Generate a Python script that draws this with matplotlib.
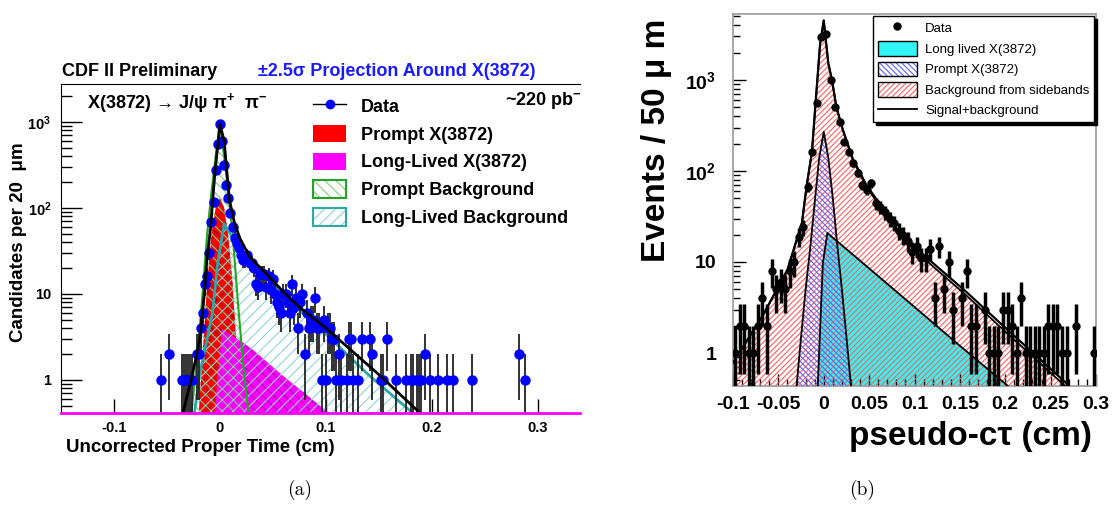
import numpy as np
import matplotlib.pyplot as plt
from matplotlib.patches import Patch
from matplotlib.lines import Line2D
from matplotlib.ticker import LogLocator, FixedLocator, FuncFormatter, NullFormatter, MultipleLocator

# ---------------- panel (a): CDF, 20 um bins ----------------
xa = [-0.056, -0.048, -0.036, -0.034, -0.032, -0.030, -0.028, -0.026, -0.022, -0.020,
      -0.018, -0.016, -0.014, -0.012, -0.010, -0.008, -0.006, -0.004, -0.002, 0.000,
      0.002, 0.004, 0.006, 0.008, 0.010, 0.012, 0.014, 0.016, 0.018, 0.020,
      0.022, 0.024, 0.026, 0.028, 0.030, 0.032, 0.034, 0.036, 0.038, 0.040,
      0.042, 0.044, 0.046, 0.048, 0.050, 0.052, 0.054, 0.056, 0.058, 0.060,
      0.062, 0.064, 0.066, 0.068, 0.070, 0.072, 0.074, 0.076, 0.078, 0.080,
      0.082, 0.084, 0.086, 0.088, 0.090, 0.092, 0.094, 0.096, 0.098, 0.100,
      0.102, 0.104, 0.106, 0.108, 0.110, 0.112, 0.114, 0.120, 0.122, 0.124,
      0.126, 0.130, 0.134, 0.142, 0.144, 0.152, 0.154, 0.158, 0.166, 0.176,
      0.180, 0.182, 0.186, 0.188, 0.190, 0.194, 0.198, 0.206, 0.214, 0.220,
      0.238, 0.282, 0.288]
na = [1, 2, 1, 1, 1, 1, 1, 1, 2, 2,
      4, 6, 13, 16, 30, 69, 117, 277, 555, 950,
      600, 316, 185, 130, 88, 60, 45, 39, 34, 28,
      25, 25, 28, 23, 23, 20, 13, 12, 17, 17,
      17, 12, 16, 11, 15, 10, 8, 7, 6, 10,
      10, 8, 6, 13, 7, 9, 4, 8, 10, 2,
      6, 4, 5, 5, 9, 4, 4, 1, 5, 1,
      4, 4, 3, 3, 1, 2, 1, 1, 3, 3,
      1, 1, 3, 3, 2, 1, 1, 3, 1, 1,
      1, 1, 1, 1, 1, 2, 1, 1, 1, 1,
      1, 2, 1]

tot_a_x = [-0.035, -0.027, -0.019, -0.015, -0.012, -0.009, -0.005, 0.0, 0.004, 0.009,
           0.014, 0.019, 0.028, 0.044, 0.06, 0.075, 0.1, 0.15, 0.189]
tot_a_y = [0.41, 1.0, 2.9, 9, 27, 55, 230, 950, 600, 124,
           65, 44, 27, 17, 10.5, 7, 4, 1.15, 0.41]
prompt_a_x = [-0.020, -0.016, -0.012, -0.008, -0.004, 0.0, 0.004, 0.008, 0.012, 0.016, 0.020]
prompt_a_y = [0.41, 2.2, 13, 47, 100, 130, 100, 47, 13, 2.2, 0.41]
ll_a_x = [-0.005, 0.002, 0.03, 0.06, 0.103]
ll_a_y = [0.41, 3.9, 2.3, 1.1, 0.41]
pbkg_a_x = [-0.027, -0.022, -0.017, -0.012, -0.008, -0.004, 0.0, 0.004, 0.008, 0.012, 0.017, 0.022, 0.027]
pbkg_a_y = [0.41, 1.5, 8, 50, 150, 400, 900, 400, 150, 50, 8, 1.5, 0.41]
lbkg_a_x = [-0.024, -0.019, -0.012, -0.007, -0.002, 0.004, 0.012, 0.02, 0.03, 0.05, 0.075, 0.1, 0.14, 0.182]
lbkg_a_y = [0.41, 1.2, 3, 6, 23, 65, 45, 30, 22, 13, 6.5, 3.4, 1.15, 0.41]

# ---------------- panel (b): 50 um bins ----------------
xb = [-0.0975, -0.0925, -0.0875, -0.0825, -0.0775, -0.0725, -0.0675, -0.0625, -0.0575, -0.0525,
      -0.0475, -0.0425, -0.0375, -0.0325, -0.0275, -0.0225, -0.0175, -0.0125, -0.0075, -0.0025,
      0.0025, 0.0075, 0.0125, 0.0175, 0.0225, 0.0275, 0.0325, 0.0375, 0.0425, 0.0475,
      0.0525, 0.0575, 0.0625, 0.0675, 0.0725, 0.0775, 0.0825, 0.0875, 0.0925, 0.0975,
      0.1025, 0.1075, 0.1125, 0.1175, 0.1225, 0.1275, 0.1325, 0.1375, 0.1425, 0.1525,
      0.1575, 0.1625, 0.1675, 0.1775, 0.1825, 0.1875, 0.1925, 0.1975, 0.2025, 0.2075,
      0.2125, 0.2175, 0.2225, 0.2275, 0.2325, 0.2375, 0.2425, 0.2475, 0.2525, 0.2575,
      0.2625, 0.2675, 0.2775, 0.2975]
nb = [1, 2, 2, 1, 1, 2, 4, 2, 8, 5,
      6, 5, 8, 10, 19, 24, 67, 162, 560, 2960,
      3200, 1000, 510, 345, 208, 162, 122, 95, 70, 62,
      74, 44, 40, 35, 30, 27, 22, 20, 17, 13,
      15, 11, 11, 14, 4, 15, 5, 10, 3, 4,
      8, 2, 2, 3, 1, 1, 1, 3, 3, 2,
      1, 4, 1, 1, 1, 1, 1, 2, 2, 2,
      1, 1, 2, 1]

bkg_b_x = [-0.1, -0.067, -0.04, -0.024, -0.019, -0.013, -0.009, -0.004, 0.0, 0.005, 0.009,
           0.014, 0.021, 0.032, 0.047, 0.065, 0.084, 0.12, 0.157, 0.194, 0.266]
bkg_b_y = [0.78, 2.6, 8.2, 27, 67, 162, 560, 2500, 4500, 1530, 1000,
           500, 280, 132, 67, 37, 19, 9, 4.3, 1.95, 0.434]
tot_b_x = [-0.1, -0.067, -0.04, -0.024, -0.019, -0.013, -0.009, -0.004, 0.0, 0.005, 0.009,
           0.014, 0.021, 0.032, 0.047, 0.065, 0.084, 0.12, 0.157, 0.194, 0.27]
tot_b_y = [0.78, 2.6, 8.2, 27, 67, 162, 560, 2500, 4500, 1530, 1000,
           500, 285, 136, 70, 39, 20.5, 9.8, 4.7, 2.15, 0.44]
prompt_b_x = [-0.03, -0.025, -0.02, -0.015, -0.01, -0.005, 0.0, 0.005, 0.01, 0.015, 0.02, 0.025, 0.03]
prompt_b_y = [0.434, 1.5, 5, 14, 45, 140, 270, 140, 50, 15, 5, 1.5, 0.434]
ll_b_x = [-0.0066, -0.001, 0.004, 0.05, 0.1, 0.15, 0.203]
ll_b_y = [0.434, 9.7, 20.8, 8.5, 3.2, 1.2, 0.434]

plt.rcParams['font.family'] = ['Liberation Sans', 'DejaVu Sans']
plt.rcParams['font.weight'] = 'bold'
plt.rcParams['mathtext.fontset'] = 'custom'
plt.rcParams['mathtext.rm'] = 'Liberation Sans:bold'
plt.rcParams['mathtext.it'] = 'Liberation Sans:bold'
plt.rcParams['mathtext.bf'] = 'Liberation Sans:bold'
plt.rcParams['hatch.linewidth'] = 0.8

W, H = 1118.0, 505.0
fig = plt.figure(figsize=(W / 100, H / 100), dpi=100)


def box(x0, y0, x1, y1):
    return [x0 / W, 1 - y1 / H, (x1 - x0) / W, (y1 - y0) / H]


def errs(n):
    n = np.asarray(n, float)
    e = np.sqrt(n)
    lo = n - np.maximum(n - e, 0.05)
    return [lo, e]


def logfmt(v, pos):
    if v >= 99:
        return '$10^{%d}$' % int(round(np.log10(v)))
    return '%d' % int(round(v))


# ================= (a) =================
ax1 = fig.add_axes(box(61, 84, 580, 413))
ax1.set_yscale('log')
y0a = 0.41
ax1.set_xlim(-0.15, 0.34)
ax1.set_ylim(y0a, 2760)

ax1.fill_between(prompt_a_x, prompt_a_y, y0a, facecolor='red', edgecolor='#b00000',
                 hatch='xx', lw=0, zorder=2)
ax1.fill_between(ll_a_x, ll_a_y, y0a, facecolor='#ff00ff', edgecolor='#b000b0',
                 hatch='\\\\\\', lw=0, zorder=3)
ax1.fill_between(pbkg_a_x, pbkg_a_y, y0a, facecolor='none', edgecolor='#80cc80',
                 hatch='\\\\\\', lw=0, zorder=4)
ax1.fill_between(lbkg_a_x, lbkg_a_y, y0a, facecolor='none', edgecolor='#8fd4d4',
                 hatch='///', lw=0, zorder=4)
ax1.plot(pbkg_a_x, pbkg_a_y, color='#22a522', lw=1.5, zorder=5)
ax1.plot(lbkg_a_x, lbkg_a_y, color='#2aa8a8', lw=2, zorder=5)
ax1.errorbar(xa, na, yerr=errs(na), fmt='o', mfc='#0000ff', mec='#0000ff', ms=6.5,
             ecolor='#222222', elinewidth=1.3, capsize=0, zorder=6)
ax1.plot(tot_a_x, tot_a_y, color='black', lw=2, zorder=7)
ax1.axhline(y0a, color='#ff00ff', lw=2, zorder=8, clip_on=False)

ax1.spines['right'].set_visible(False)
ax1.spines['bottom'].set_visible(False)
ax1.set_xticks([-0.1, 0.0, 0.1, 0.2, 0.3])
ax1.set_xticklabels(['-0.1', '0', '0.1', '0.2', '0.3'])
ax1.yaxis.set_major_locator(FixedLocator([1, 10, 100, 1000]))
ax1.yaxis.set_minor_locator(LogLocator(base=10, subs=np.arange(2, 10)))
ax1.yaxis.set_major_formatter(FuncFormatter(logfmt))
ax1.yaxis.set_minor_formatter(NullFormatter())
ax1.tick_params(axis='y', which='major', direction='in', length=15, width=1, pad=7, labelsize=10.5)
ax1.tick_params(axis='y', which='minor', direction='in', length=8, width=1)
ax1.tick_params(axis='x', which='major', direction='in', length=10, width=1, pad=6, labelsize=10.5)
ax1.tick_params(top=False, right=False)

ha = [Line2D([], [], color='black', lw=1, marker='o', mfc='#0000ff', mec='#0000ff', ms=6),
      Patch(facecolor='red', edgecolor='none'),
      Patch(facecolor='#ff00ff', edgecolor='none'),
      (Patch(facecolor='white', edgecolor='#80cc80', hatch='\\\\\\', lw=0),
       Patch(facecolor='none', edgecolor='#22a522', lw=1.5)),
      (Patch(facecolor='white', edgecolor='#8fd4d4', hatch='///', lw=0),
       Patch(facecolor='none', edgecolor='#2aa8a8', lw=1.5))]
la = ['Data', 'Prompt X(3872)', 'Long-Lived X(3872)', 'Prompt Background', 'Long-Lived Background']
fig.legend(ha, la, loc='upper left', bbox_to_anchor=(313 / W, 1 - 97 / H), frameon=False,
           prop={'weight': 'bold', 'size': 13}, handlelength=1.85, handleheight=1.1,
           handletextpad=0.8, labelspacing=0.5, borderpad=0, borderaxespad=0)

fig.text(62 / W, 1 - 71 / H, 'CDF II Preliminary', fontsize=13, va='center', ha='left')
fig.text(258 / W, 1 - 72 / H, '±2.5σ Projection Around X(3872)', color='#1a1aff',
         fontsize=13, va='center', ha='left')
fig.text(87 / W, 1 - 103 / H, 'X(3872) → J/ψ π$^{+}$  π$^{-}$', fontsize=13, va='center', ha='left')
lumi = ax1.text(505 / W, 1 - 100 / H, '~220 pb$^{-1}$', transform=fig.transFigure,
                fontsize=13, va='center', ha='left')
lumi.set_clip_box(ax1.bbox)
lumi.set_clip_on(True)
fig.text(200 / W, 1 - 448 / H, 'Uncorrected Proper Time (cm)', fontsize=13.5, ha='center', va='center')
fig.text(19 / W, 1 - 242 / H, 'Candidates per 20  μm', fontsize=13.5, rotation=90,
         ha='center', va='center')

# ================= (b) =================
ax2 = fig.add_axes(box(733, 14, 1096, 386))
ax2.set_yscale('log')
y0b = 0.434
ax2.set_xlim(-0.1, 0.3)
ax2.set_ylim(y0b, 5300)

ax2.fill_between(ll_b_x, ll_b_y, y0b, facecolor='#33f4f4', edgecolor='none', lw=0, zorder=1)
ax2.fill_between(bkg_b_x, bkg_b_y, y0b, facecolor='none', edgecolor='#ff6060',
                 hatch='//////', lw=0, zorder=2)
ax2.fill_between(prompt_b_x, prompt_b_y, y0b, facecolor='none', edgecolor='#6060ff',
                 hatch='\\\\\\\\\\\\', lw=0, zorder=3)
ax2.plot(ll_b_x, ll_b_y, color='black', lw=1.3, zorder=4)
ax2.plot(prompt_b_x, prompt_b_y, color='black', lw=1.3, zorder=4)
ax2.plot(bkg_b_x, bkg_b_y, color='black', lw=1.3, zorder=4)
ax2.plot(tot_b_x, tot_b_y, color='black', lw=1.6, zorder=5)
ax2.errorbar(xb, nb, yerr=errs(nb), fmt='o', color='black', ms=5, elinewidth=2.5,
             capsize=0, zorder=6)

for s in ax2.spines.values():
    s.set_color('#999999')
    s.set_linewidth(1.2)
ax2.set_xticks([-0.1, -0.05, 0.0, 0.05, 0.1, 0.15, 0.2, 0.25, 0.3])
ax2.set_xticklabels(['-0.1', '-0.05', '0', '0.05', '0.1', '0.15', '0.2', '0.25', '0.3'])
ax2.xaxis.set_minor_locator(MultipleLocator(0.01))
ax2.yaxis.set_major_locator(FixedLocator([1, 10, 100, 1000]))
ax2.yaxis.set_minor_locator(LogLocator(base=10, subs=np.arange(2, 10)))
ax2.yaxis.set_major_formatter(FuncFormatter(logfmt))
ax2.yaxis.set_minor_formatter(NullFormatter())
ax2.tick_params(axis='both', which='major', direction='in', length=9, width=1, labelsize=14)
ax2.tick_params(axis='both', which='minor', direction='in', length=5, width=1)
ax2.tick_params(axis='y', which='major', pad=12)
ax2.tick_params(axis='x', which='major', pad=7)
ax2.tick_params(top=False, right=False, which='both')

hb = [Line2D([], [], ls='none', marker='o', color='black', ms=5),
      Patch(facecolor='#33f4f4', edgecolor='black', lw=1),
      (Patch(facecolor='white', edgecolor='#6060ff', hatch='\\\\\\\\\\\\', lw=0),
       Patch(facecolor='none', edgecolor='black', lw=1)),
      (Patch(facecolor='white', edgecolor='#ff6060', hatch='//////', lw=0),
       Patch(facecolor='none', edgecolor='black', lw=1)),
      Line2D([], [], color='black', lw=1.3)]
lb = ['Data', 'Long lived X(3872)', 'Prompt X(3872)', 'Background from sidebands', 'Signal+background']
leg = fig.legend(hb, lb, loc='upper left', bbox_to_anchor=(873 / W, 1 - 16 / H), frameon=True,
                 fancybox=False, edgecolor='black', framealpha=1,
                 shadow={'color': 'black', 'alpha': 1},
                 prop={'weight': 'normal', 'size': 9.5}, handlelength=3.0, handleheight=1.3,
                 handletextpad=0.6, labelspacing=0.45, borderpad=0.35, borderaxespad=0)
leg.get_frame().set_linewidth(1)

fig.text(657 / W, 1 - 140 / H, 'Events / 50 μ m', fontsize=24, rotation=90, ha='center', va='center')
fig.text(970 / W, 1 - 437 / H, 'pseudo-cτ (cm)', fontsize=24, ha='center', va='center')

fig.text(300 / W, 1 - 490 / H, '(a)', family='cmr10', weight='normal', fontsize=14, ha='center', va='center')
fig.text(862 / W, 1 - 490 / H, '(b)', family='cmr10', weight='normal', fontsize=14, ha='center', va='center')

fig.savefig('out.png', dpi=100)
